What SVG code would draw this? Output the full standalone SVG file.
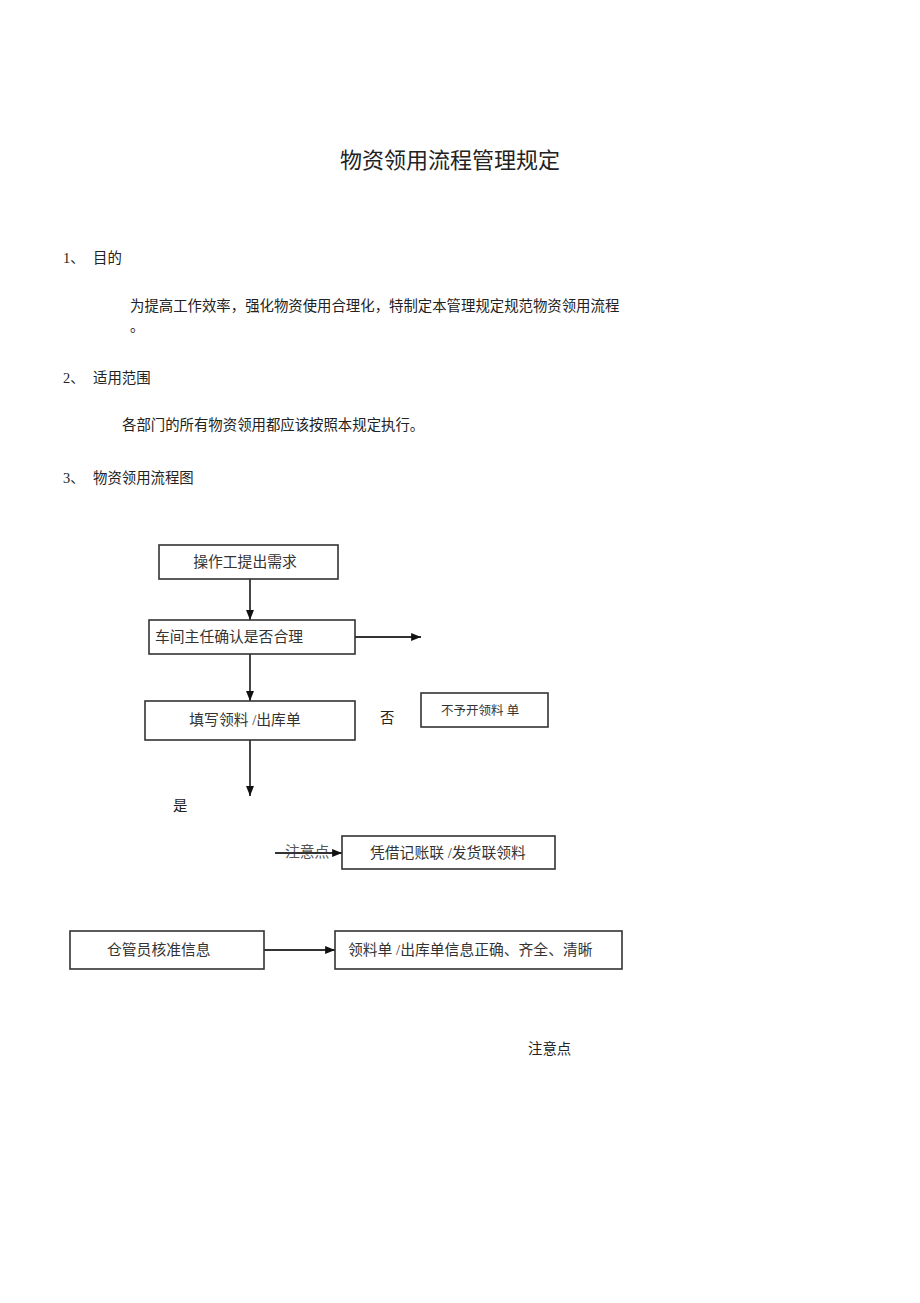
<svg xmlns="http://www.w3.org/2000/svg" width="920" height="1303" viewBox="0 0 920 1303">
<style>
text{font-family:"Liberation Serif","Noto Sans CJK SC",serif;fill:#222;dominant-baseline:central}
.t{font-size:14.4px}
.n{font-size:14.8px;fill:#333}
.box{fill:#fff;stroke:#333;stroke-width:1.6}
.ln{stroke:#333;stroke-width:1.8;fill:none}
</style>
<defs>
<marker id="ah" viewBox="0 0 10 10" refX="10" refY="5" markerWidth="5.5" markerHeight="5.5" markerUnits="strokeWidth" orient="auto">
<path d="M0,1 L10,5 L0,9 z" fill="#111"/>
</marker>
</defs>
<rect width="920" height="1303" fill="#fff"/>
<g id="text">
<text x="450" y="160" text-anchor="middle" style="font-size:22px">物资领用流程管理规定</text>
<text class="t" x="63" y="258">1、</text><text class="t" x="93" y="258">目的</text>
<text class="t" x="130" y="306">为提高工作效率，强化物资使用合理化，特制定本管理规定规范物资领用流程</text>
<text class="t" x="130" y="326">。</text>
<text class="t" x="63" y="378">2、</text><text class="t" x="93" y="378">适用范围</text>
<text class="t" x="122" y="425">各部门的所有物资领用都应该按照本规定执行。</text>
<text class="t" x="63" y="478">3、</text><text class="t" x="93" y="478">物资领用流程图</text>
<text class="t" x="380" y="718">否</text>
<text class="t" x="173" y="806">是</text>
<text class="t" x="528" y="1049">注意点</text>
</g>
<g id="connectors">
<line class="ln" x1="250" y1="579" x2="250" y2="620" marker-end="url(#ah)"/>
<line class="ln" x1="355" y1="637" x2="421" y2="637" marker-end="url(#ah)"/>
<line class="ln" x1="250" y1="654" x2="250" y2="701" marker-end="url(#ah)"/>
<line class="ln" x1="250" y1="740" x2="250" y2="796" marker-end="url(#ah)"/>
<text class="n" x="285" y="852" style="fill:#555">注意点</text>
<line class="ln" x1="275" y1="853" x2="342" y2="853" marker-end="url(#ah)"/>
<line class="ln" x1="264" y1="950" x2="335" y2="950" marker-end="url(#ah)"/>
</g>
<g id="n1"><rect class="box" x="159" y="545" width="179" height="34"/><text class="n" x="245" y="562" text-anchor="middle">操作工提出需求</text></g>
<g id="n2"><rect class="box" x="149" y="620" width="206" height="34"/><text class="n" x="155" y="637">车间主任确认是否合理</text></g>
<g id="n3"><rect class="box" x="145" y="701" width="210" height="39"/><text class="n" x="245" y="720" text-anchor="middle">填写领料 /出库单</text></g>
<g id="n4"><rect class="box" x="421" y="693" width="127" height="34"/><text x="441" y="711" style="font-size:12.5px;fill:#333">不予开领料  单</text></g>
<g id="n5"><rect class="box" x="342" y="836" width="213" height="33"/><text class="n" x="370" y="853">凭借记账联  /发货联领料</text></g>
<g id="n6"><rect class="box" x="70" y="931" width="194" height="38"/><text class="n" x="107" y="950">仓管员核准信息</text></g>
<g id="n7"><rect class="box" x="335" y="931" width="287" height="38"/><text class="n" x="348" y="950">领料单 /出库单信息正确、齐全、清晰</text></g>
</svg>
